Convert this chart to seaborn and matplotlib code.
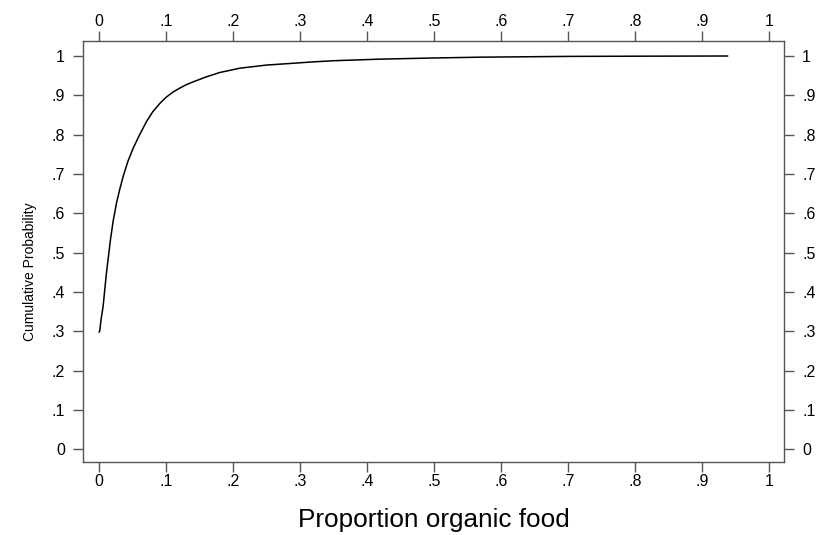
import seaborn as sns
import matplotlib.pyplot as plt
import pandas as pd

# values
prop_organic = [0.000, 0.001, 0.003, 0.006, 0.011, 0.014, 0.017, 0.021, 0.026, 0.031,
                0.036, 0.043, 0.051, 0.060, 0.071, 0.080, 0.091, 0.100, 0.110, 0.120,
                0.130, 0.140, 0.160, 0.180, 0.210, 0.250, 0.285, 0.319, 0.350, 0.419,
                0.500, 0.568, 0.700, 0.800, 0.938]
cum_prob = [0.298, 0.301, 0.330, 0.363, 0.448, 0.490, 0.533, 0.580, 0.626, 0.662,
            0.694, 0.732, 0.766, 0.798, 0.834, 0.858, 0.880, 0.895, 0.908, 0.918,
            0.927, 0.934, 0.947, 0.958, 0.969, 0.977, 0.981, 0.985, 0.988, 0.992,
            0.995, 0.997, 0.999, 0.9995, 1.000]

tick_vals = [0, .1, .2, .3, .4, .5, .6, .7, .8, .9, 1]
tick_labels = ["0", ".1", ".2", ".3", ".4", ".5", ".6", ".7", ".8", ".9", "1"]

df = pd.DataFrame({"x": prop_organic, "y": cum_prob})

sns.set_style("white")
plt.rcParams["font.family"] = ["Liberation Sans", "DejaVu Sans"]
plt.rcParams["text.color"] = "black"
plt.rcParams["axes.labelcolor"] = "black"

fig = plt.figure(figsize=(8.28, 5.35), dpi=100)
ax = fig.add_axes([0.1002, 0.1364, 0.8467, 0.7876])

sns.lineplot(data=df, x="x", y="y", ax=ax, color="black", linewidth=1.1, sort=False)

ax.set_xlim(-0.024, 1.022)
ax.set_ylim(-0.032, 1.039)

ax.set_xticks(tick_vals)
ax.set_xticklabels(tick_labels)
ax.set_yticks(tick_vals)
ax.set_yticklabels(tick_labels)

grey = "#555555"
for sp in ax.spines.values():
    sp.set_color(grey)
    sp.set_linewidth(1.0)

ax.tick_params(axis="both", direction="out", length=7, width=1,
               color=grey, labelsize=11.5, labelcolor="black",
               top=True, right=True, labeltop=True, labelright=True,
               bottom=True, left=True)
ax.tick_params(axis="x", pad=1.5)
ax.tick_params(axis="y", pad=6)

ax.set_xlabel("Proportion organic food", fontsize=18.8, labelpad=14)
ax.set_ylabel("Cumulative Probability", fontsize=10)
ax.yaxis.set_label_coords(-0.065, 0.451)

fig.savefig("out.png", dpi=100, facecolor="white")
